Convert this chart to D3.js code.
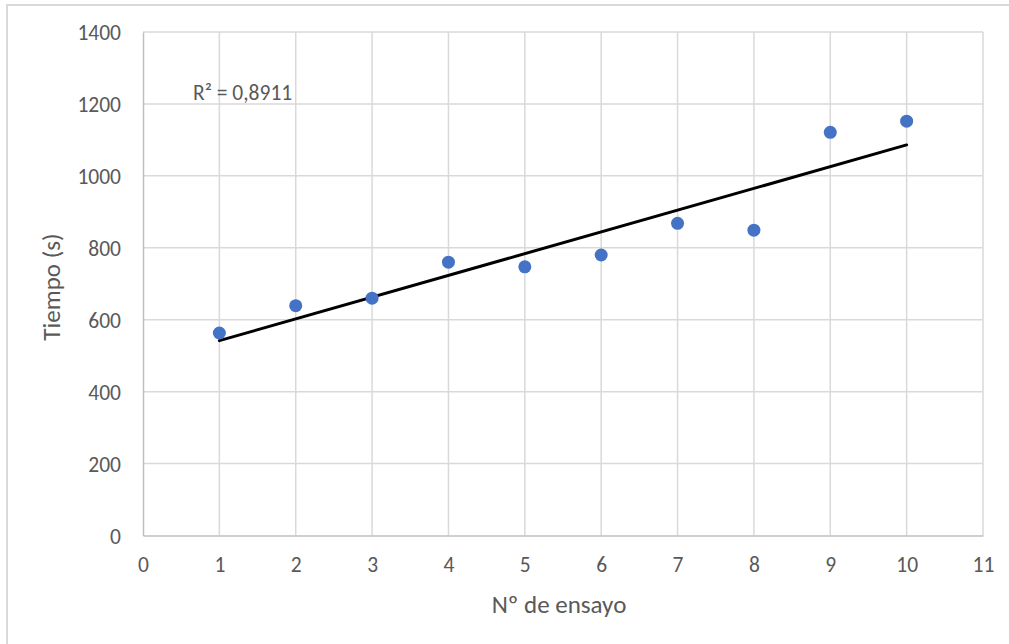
<!DOCTYPE html>
<html>
<head>
<meta charset="utf-8">
<script src="https://cdn.jsdelivr.net/npm/d3@7"></script>
<style>
  body { margin: 0; background: #fff; }
  svg text { font-family: Calibri, Carlito, Lato, sans-serif; fill: #595959; }
</style>
</head>
<body>
<svg id="chart" width="1009" height="644"></svg>
<script>
// data
const ensayos = [1, 2, 3, 4, 5, 6, 7, 8, 9, 10];
const tiempos = [563, 639, 660, 760, 747, 780, 868, 849, 1121, 1152];
const xTicks = [0, 1, 2, 3, 4, 5, 6, 7, 8, 9, 10, 11];
const yTicks = [0, 200, 400, 600, 800, 1000, 1200, 1400];
const r2Label = "R² = 0,8911";
const xTitle = "Nº de ensayo";
const yTitle = "Tiempo (s)";

const svg = d3.select("#chart");
const margin = { top: 32, left: 143, right: 26, bottom: 109 };
const width = 1009, height = 644;
const innerWidth = 983 - margin.left;
const innerHeight = 535.5 - margin.top;

// outer chart border
svg.append("rect")
    .attr("x", 7).attr("y", 5)
    .attr("width", width + 20).attr("height", height + 20)
    .attr("fill", "none").attr("stroke", "#d9d9d9").attr("stroke-width", 2);

const g = svg.append("g").attr("transform", "translate(" + margin.left + "," + margin.top + ")");

const xScale = d3.scaleLinear().domain([0, 11]).range([0, innerWidth]);
const yScale = d3.scaleLinear().domain([0, 1400]).range([innerHeight, 0]);

// grid
g.append("g").selectAll("line").data(xTicks.slice(1)).join("line")
    .attr("x1", d => xScale(d)).attr("x2", d => xScale(d))
    .attr("y1", 0).attr("y2", innerHeight)
    .attr("stroke", "#d9d9d9").attr("stroke-width", 1.5);
g.append("g").selectAll("line").data(yTicks.slice(1)).join("line")
    .attr("x1", 0).attr("x2", innerWidth)
    .attr("y1", d => yScale(d)).attr("y2", d => yScale(d))
    .attr("stroke", "#d9d9d9").attr("stroke-width", 1.5);

// axes
const xAxis = d3.axisBottom(xScale).tickValues(xTicks).tickFormat(d3.format("d")).tickSize(0).tickPadding(21);
const yAxis = d3.axisLeft(yScale).tickValues(yTicks).tickFormat(d3.format("d")).tickSize(0).tickPadding(22);
const gx = g.append("g").attr("transform", "translate(0," + innerHeight + ")").call(xAxis);
const gy = g.append("g").call(yAxis);
[gx, gy].forEach(a => {
    a.attr("font-size", null).attr("font-family", null);
    a.select(".domain").attr("stroke", "#bfbfbf").attr("stroke-width", 1.5);
    a.selectAll("text").style("font-size", "21.5px").attr("fill", "#595959");
});
gy.selectAll("text").attr("dy", "0.36em");

// trendline (least squares from the data)
const mx = d3.mean(ensayos), my = d3.mean(tiempos);
const slope = d3.sum(ensayos, (x, i) => (x - mx) * (tiempos[i] - my)) / d3.sum(ensayos, x => (x - mx) * (x - mx));
const intercept = my - slope * mx;
const xr = d3.extent(ensayos);
g.append("line")
    .attr("x1", xScale(xr[0])).attr("y1", yScale(intercept + slope * xr[0]))
    .attr("x2", xScale(xr[1])).attr("y2", yScale(intercept + slope * xr[1]))
    .attr("stroke", "#000").attr("stroke-width", 3).attr("stroke-linecap", "round");

// points
g.selectAll(".pt").data(ensayos).join("circle")
    .attr("class", "pt")
    .attr("cx", d => xScale(d))
    .attr("cy", (d, i) => yScale(tiempos[i]))
    .attr("r", 6.5)
    .attr("fill", "#4472c4");

// R² label
svg.append("text").attr("x", 193).attr("y", 100)
    .style("font-size", "21.5px").text(r2Label);

// axis titles
svg.append("text").attr("x", 559).attr("y", 613)
    .attr("text-anchor", "middle").style("font-size", "25px").text(xTitle);
svg.append("text").attr("transform", "translate(60,287) rotate(-90)")
    .attr("text-anchor", "middle").style("font-size", "25px").text(yTitle);
</script>
</body>
</html>
